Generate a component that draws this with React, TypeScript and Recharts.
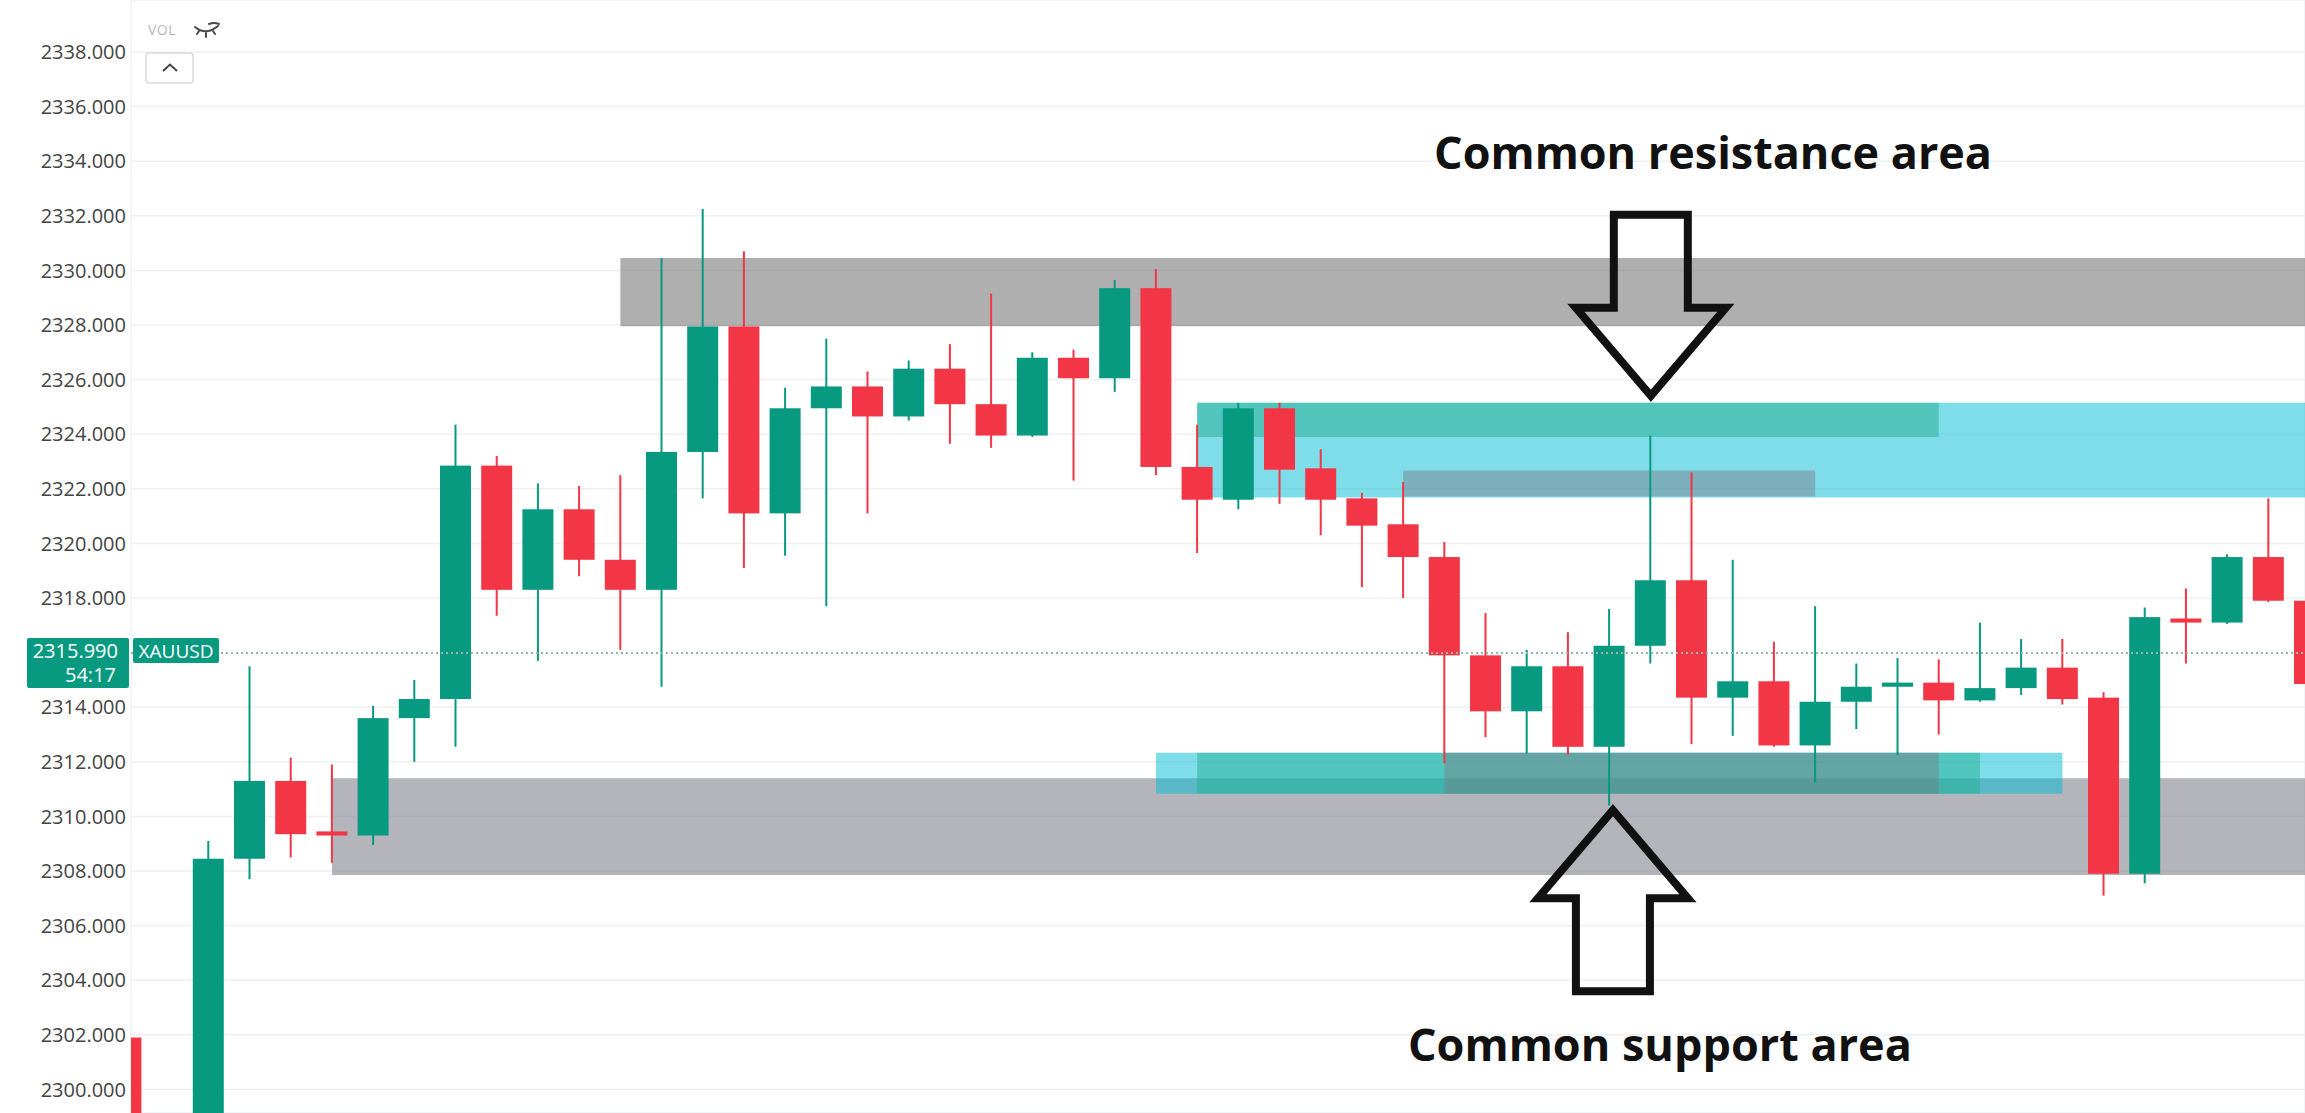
import React from "react";
import {
  ComposedChart,
  Bar,
  XAxis,
  YAxis,
  CartesianGrid,
  ReferenceArea,
  ReferenceLine,
  ReferenceDot,
} from "recharts";

// XAUUSD candles (index = candle slot from the left)
const opens = [
  2301.9, 2296.3, 2293.1, 2308.45, 2311.3, 2309.45, 2309.3, 2313.6, 2314.3, 2322.85,
  2318.3, 2321.25, 2319.4, 2318.3, 2323.35, 2327.95, 2321.1, 2324.95, 2325.75, 2324.65,
  2326.4, 2325.1, 2323.95, 2326.8, 2326.05, 2329.35, 2322.8, 2321.6, 2324.95, 2322.75,
  2321.65, 2320.7, 2319.5, 2315.9, 2313.85, 2315.5, 2312.55, 2316.25, 2318.65, 2314.35,
  2314.95, 2312.6, 2314.2, 2314.75, 2314.9, 2314.25, 2314.7, 2315.45, 2314.35, 2307.9,
  2317.25, 2317.1, 2319.5, 2317.9,
];
const highs = [
  2301.95, 2298.4, 2309.1, 2315.5, 2312.15, 2311.9, 2314.05, 2315.0, 2324.35, 2323.2,
  2322.2, 2322.1, 2322.5, 2330.45, 2332.25, 2330.7, 2325.7, 2327.5, 2326.3, 2326.7,
  2327.3, 2329.15, 2327.0, 2327.1, 2329.65, 2330.05, 2324.35, 2325.15, 2325.15, 2323.45,
  2321.85, 2322.25, 2320.05, 2317.45, 2316.1, 2316.75, 2317.6, 2323.95, 2322.6, 2319.4,
  2316.4, 2317.7, 2315.6, 2315.8, 2315.75, 2317.1, 2316.5, 2316.5, 2314.55, 2317.65,
  2318.35, 2319.6, 2321.65, 2318.3,
];
const lows = [
  2295.4, 2291.6, 2292.4, 2307.7, 2308.5, 2308.3, 2308.95, 2312.0, 2312.55, 2317.35,
  2315.7, 2318.8, 2316.1, 2314.75, 2321.65, 2319.1, 2319.55, 2317.7, 2321.1, 2324.5,
  2323.65, 2323.5, 2323.9, 2322.3, 2325.55, 2322.5, 2319.65, 2321.25, 2321.45, 2320.3,
  2318.4, 2318.0, 2311.95, 2312.9, 2312.3, 2312.25, 2310.4, 2315.6, 2312.65, 2312.95,
  2312.55, 2311.25, 2313.2, 2312.25, 2313.0, 2314.2, 2314.45, 2314.1, 2307.1, 2307.55,
  2315.6, 2317.05, 2317.85, 2314.5,
];
const closes = [
  2296.3, 2293.1, 2308.45, 2311.3, 2309.35, 2309.3, 2313.6, 2314.3, 2322.85, 2318.3,
  2321.25, 2319.4, 2318.3, 2323.35, 2327.95, 2321.1, 2324.95, 2325.75, 2324.65, 2326.4,
  2325.1, 2323.95, 2326.8, 2326.05, 2329.35, 2322.8, 2321.6, 2324.95, 2322.7, 2321.6,
  2320.65, 2319.5, 2315.9, 2313.85, 2315.5, 2312.55, 2316.25, 2318.65, 2314.35, 2314.95,
  2312.6, 2314.2, 2314.75, 2314.9, 2314.25, 2314.7, 2315.45, 2314.3, 2307.9, 2317.3,
  2317.1, 2319.5, 2317.9, 2314.85,
];

// 2316 is hidden behind the last-price tag
const priceTicks = [
  2300, 2302, 2304, 2306, 2308, 2310, 2312, 2314, 2318, 2320, 2322, 2324, 2326, 2328,
  2330, 2332, 2334, 2336, 2338,
];
const timeGridSlots = [1, 7, 13, 19, 24, 30, 36, 42, 47];

const symbol = "XAUUSD";
const lastPrice = 2315.99;
const countdown = "54:17";

// zones: from/to candle slot (to = null -> runs off the right edge), low/high price
const grayZones = [
  { from: 12, to: null, low: 2327.95, high: 2330.45, kind: "upper" },
  { from: 5, to: null, low: 2307.85, high: 2311.4, kind: "lower" },
];
const cyanZones = [
  { from: 26, to: null, low: 2321.68, high: 2325.15 },
  { from: 25, to: 47, low: 2310.83, high: 2312.33 },
];
const tealZones = [
  { from: 26, to: 44, low: 2323.9, high: 2325.15 },
  { from: 26, to: 45, low: 2310.83, high: 2312.33 },
];
const slateZones = [
  { from: 31, to: 41, low: 2321.72, high: 2322.67 },
  { from: 32, to: 44, low: 2310.83, high: 2312.33 },
];

const arrows = [
  { dir: "down", at: 37.01, price: 2325.19 },
  { dir: "up", at: 36.09, price: 2310.45 },
];
const notes = [
  { text: "Common resistance area", at: 38.52, price: 2333.73 },
  { text: "Common support area", at: 37.23, price: 2301.04 },
];

const GREEN = "#089981";
const RED = "#f23645";
const noteWidth: Record<string, number> = {
  "Common resistance area": 558,
  "Common support area": 504,
};

const data = opens.map((open, i) => ({
  i,
  open,
  high: highs[i],
  low: lows[i],
  close: closes[i],
  range: [lows[i], highs[i]],
}));

function Candle(props: any) {
  const { x, y, width, height, payload } = props;
  if (!payload || height == null || !isFinite(height)) return null;
  const { open, close, high, low } = payload;
  const k = height / (high - low);
  const yAt = (v: number) => y + (high - v) * k;
  const color = close >= open ? GREEN : RED;
  const top = yAt(Math.max(open, close));
  const bodyH = Math.max(2, Math.abs(yAt(open) - yAt(close)));
  const cx = x + width / 2;
  return (
    <g>
      <rect x={cx - 1} y={y} width={2} height={height} fill={color} />
      <rect x={x} y={top} width={width} height={bodyH} fill={color} />
    </g>
  );
}

function PriceTag(props: any) {
  const vb = props.viewBox || {};
  const x = vb.x;
  const y = vb.y;
  if (x == null || y == null) return null;
  return (
    <g>
      <rect x={x - 104} y={y - 15} width={102} height={50} fill={GREEN} rx={2} />
      <text x={x - 13} y={y + 5} fill="#fff" fontSize={20} textAnchor="end">
        {lastPrice.toFixed(3)}
      </text>
      <text x={x - 15} y={y + 29} fill="#fff" fontSize={20} textAnchor="end">
        {countdown}
      </text>
      <rect x={x + 2} y={y - 15} width={86} height={25} fill={GREEN} rx={2} />
      <text x={x + 45} y={y + 5} fill="#fff" fontSize={19} textAnchor="middle">
        {symbol}
      </text>
    </g>
  );
}

function Arrow(props: any) {
  const { cx, cy, dir } = props;
  const s = dir === "down" ? -1 : 1;
  const tip = 6 * s;
  const pts = [
    [0, tip],
    [-75, 94 * s],
    [-37, 94 * s],
    [-37, 187 * s],
    [37, 187 * s],
    [37, 94 * s],
    [75, 94 * s],
  ]
    .map(([dx, dy]) => `${cx + dx},${cy + dy}`)
    .join(" ");
  return (
    <polygon
      points={pts}
      fill="none"
      stroke="#111"
      strokeWidth={8}
      strokeLinejoin="miter"
      strokeMiterlimit={10}
    />
  );
}

function Note(props: any) {
  const { cx, cy, text } = props;
  return (
    <text
      x={cx}
      y={cy}
      textAnchor="middle"
      fontSize={45}
      fontWeight={700}
      fill="#111"
      textLength={noteWidth[text]}
      lengthAdjust="spacingAndGlyphs"
      style={{ fontFamily: "'Open Sans', sans-serif" }}
    >
      {text}
    </text>
  );
}

function ChartChrome() {
  return (
    <svg
      width={260}
      height={100}
      style={{ position: "absolute", left: 0, top: 0, pointerEvents: "none" }}
    >
      <text x={148} y={35} fontSize={14} fill="#b8b8b8" letterSpacing={0.5}>
        VOL
      </text>
      <g fill="none" stroke="#4a4a4a" strokeWidth={2} strokeLinecap="round">
        <path d="M195 27 Q206 36 218 26" />
        <path d="M199 31 L197 34 M206 33 L206 37 M213 31 L215 34" />
        <path d="M209 24 Q214 22 219 24" />
      </g>
      <rect x={146} y={53} width={47} height={30} rx={3} fill="#fff" stroke="#dcdcdc" strokeWidth={1.5} />
      <polyline points="163,71 170,64.5 177,71" fill="none" stroke="#444" strokeWidth={2} />
    </svg>
  );
}

export default function App() {
  return (
    <div
      style={{
        position: "absolute",
        left: 0,
        top: 0,
        width: 2305,
        height: 1113,
        background: "#fff",
        fontFamily: "'Open Sans', sans-serif",
      }}
    >
      <ComposedChart
        width={2305}
        height={1113}
        data={data}
        margin={{ top: 0, right: 0, bottom: 0, left: 0 }}
      >
        <CartesianGrid stroke="#eef0f2" strokeWidth={1.5} />
        <XAxis
          dataKey="i"
          type="number"
          domain={[0.1214, 52.888]}
          allowDataOverflow
          ticks={timeGridSlots}
          tick={false}
          axisLine={false}
          tickLine={false}
          height={0}
        />
        <YAxis
          type="number"
          domain={[2299.136, 2339.905]}
          allowDataOverflow
          ticks={priceTicks}
          width={131}
          axisLine={false}
          tickLine={false}
          tickSize={0}
          tickMargin={5}
          tickFormatter={(v: number) => v.toFixed(3)}
          tick={{ fill: "#444", fontSize: 20 }}
        />

        {grayZones.map((z, n) => (
          <ReferenceArea
            key={`g${n}`}
            x1={z.from}
            x2={z.to ?? undefined}
            y1={z.low}
            y2={z.high}
            fill={z.kind === "upper" ? "rgba(96,96,96,0.5)" : "rgba(120,123,134,0.56)"}
            fillOpacity={1}
            stroke="none"
          />
        ))}
        {cyanZones.map((z, n) => (
          <ReferenceArea
            key={`c${n}`}
            x1={z.from}
            x2={z.to ?? undefined}
            y1={z.low}
            y2={z.high}
            fill="rgba(0,188,212,0.5)"
            fillOpacity={1}
            stroke="none"
          />
        ))}
        {tealZones.map((z, n) => (
          <ReferenceArea
            key={`t${n}`}
            x1={z.from}
            x2={z.to ?? undefined}
            y1={z.low}
            y2={z.high}
            fill="rgba(38,176,145,0.5)"
            fillOpacity={1}
            stroke="none"
          />
        ))}
        {slateZones.map((z, n) => (
          <ReferenceArea
            key={`s${n}`}
            x1={z.from}
            x2={z.to ?? undefined}
            y1={z.low}
            y2={z.high}
            fill="rgba(120,123,134,0.45)"
            fillOpacity={1}
            stroke="none"
          />
        ))}

        <Bar
          dataKey="range"
          barSize={31}
          shape={(p: any) => <Candle {...p} />}
          isAnimationActive={false}
        />

        <ReferenceLine
          y={lastPrice}
          stroke="#93b5ad"
          strokeWidth={2}
          strokeDasharray="2 3"
          label={(p: any) => <PriceTag {...p} />}
        />

        {arrows.map((a, n) => (
          <ReferenceDot
            key={`a${n}`}
            x={a.at}
            y={a.price}
            r={1}
            shape={(p: any) => <Arrow {...p} dir={a.dir} />}
          />
        ))}
        {notes.map((t, n) => (
          <ReferenceDot
            key={`n${n}`}
            x={t.at}
            y={t.price}
            r={1}
            shape={(p: any) => <Note {...p} text={t.text} />}
          />
        ))}
      </ComposedChart>
      <ChartChrome />
    </div>
  );
}
